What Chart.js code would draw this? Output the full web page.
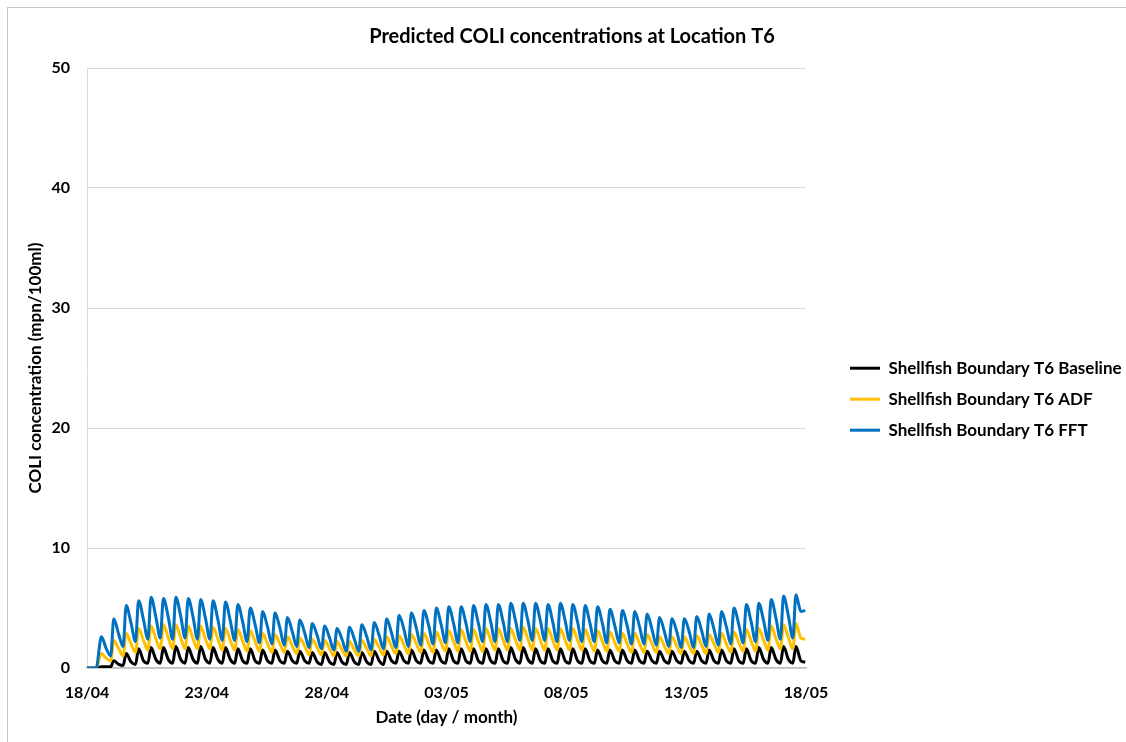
<!DOCTYPE html>
<html>
<head>
<meta charset="utf-8">
<title>Predicted COLI concentrations at Location T6</title>
<script src="https://cdn.jsdelivr.net/npm/chart.js@4/dist/chart.umd.min.js"></script>
<style>
    body { margin: 0; background: #fff; overflow: hidden; }
    #marco { position: absolute; left: 7px; top: 7px; width: 1130px; height: 750px; border: 1px solid #c8c8c8; }
    #chartColi { position: absolute; left: 0; top: 0; }
</style>
</head>
<body>
<div id="marco"></div>
<canvas id="chartColi" width="1126" height="742"></canvas>
<script>
    // tick labels of the date axis (one every 5 days from 18/04)
    const dateLabels = ["18/04", "23/04", "28/04", "03/05", "08/05", "13/05", "18/05"];

    // tidal cycle sampling: first peak day and period (days)
    const firstPeakDay = 0.6;
    const tidePeriod = 0.5175;

    // values read per tidal cycle: peak, value after peak, trough
    const blueTop = [2.6, 4.1, 5.2, 5.6, 5.9, 5.8, 5.9, 5.8, 5.7, 5.6,
        5.5, 5.3, 5.0, 4.7, 4.6, 4.2, 4.0, 3.7, 3.5, 3.3,
        3.4, 3.6, 3.8, 4.1, 4.4, 4.6, 4.8, 5.0, 5.1, 5.1,
        5.2, 5.3, 5.3, 5.4, 5.4, 5.4, 5.3, 5.4, 5.3, 5.2,
        5.1, 4.9, 4.8, 4.7, 4.5, 4.2, 4.1, 4.1, 4.3, 4.5,
        4.7, 5.0, 5.3, 5.4, 5.7, 6.0, 6.1];
    const blueMid = [1.6, 2.8, 3.7, 4.0, 4.2, 4.2, 4.3, 4.2, 4.1, 4.0,
        3.9, 3.8, 3.6, 3.4, 3.3, 3.0, 2.9, 2.7, 2.5, 2.4,
        2.4, 2.6, 2.7, 2.9, 3.2, 3.3, 3.5, 3.6, 3.7, 3.7,
        3.7, 3.8, 3.8, 3.9, 3.9, 3.9, 3.8, 3.9, 3.8, 3.7,
        3.7, 3.5, 3.5, 3.4, 3.2, 3.0, 3.0, 3.0, 3.1, 3.2,
        3.4, 3.6, 3.8, 3.9, 4.1, 4.3, 4.7];
    const blueLow = [1.0, 1.8, 2.2, 2.4, 2.5, 2.4, 2.5, 2.4, 2.4, 2.3,
        2.3, 2.2, 2.1, 2.0, 1.9, 1.8, 1.7, 1.6, 1.5, 1.4,
        1.4, 1.5, 1.6, 1.7, 1.8, 1.9, 2.0, 2.1, 2.1, 2.2,
        2.2, 2.2, 2.2, 2.3, 2.3, 2.3, 2.2, 2.3, 2.2, 2.2,
        2.1, 2.1, 2.0, 2.0, 1.9, 1.8, 1.7, 1.7, 1.8, 1.9,
        2.0, 2.1, 2.2, 2.3, 2.4, 2.5, 4.8];

    const yellowTop = [1.2, 2.3, 2.9, 3.3, 3.5, 3.6, 3.6, 3.5, 3.5, 3.4,
        3.3, 3.2, 3.1, 2.9, 2.8, 2.6, 2.5, 2.4, 2.3, 2.2,
        2.2, 2.3, 2.4, 2.6, 2.7, 2.8, 2.9, 3.0, 3.1, 3.2,
        3.2, 3.3, 3.3, 3.3, 3.4, 3.3, 3.3, 3.3, 3.3, 3.2,
        3.1, 3.0, 2.9, 2.9, 2.8, 2.6, 2.6, 2.6, 2.7, 2.8,
        2.9, 3.0, 3.2, 3.3, 3.5, 3.6, 3.7];
    const yellowMid = [0.8, 1.6, 2.0, 2.3, 2.4, 2.5, 2.5, 2.4, 2.4, 2.4,
        2.3, 2.2, 2.2, 2.0, 2.0, 1.8, 1.8, 1.7, 1.6, 1.5,
        1.5, 1.6, 1.7, 1.8, 1.9, 2.0, 2.0, 2.1, 2.2, 2.2,
        2.2, 2.3, 2.3, 2.3, 2.4, 2.3, 2.3, 2.3, 2.3, 2.2,
        2.2, 2.1, 2.0, 2.0, 2.0, 1.8, 1.8, 1.8, 1.9, 2.0,
        2.0, 2.1, 2.2, 2.3, 2.4, 2.5, 2.5];
    const yellowLow = [0.6, 1.0, 1.3, 1.5, 1.6, 1.6, 1.6, 1.6, 1.6, 1.5,
        1.5, 1.4, 1.4, 1.3, 1.3, 1.2, 1.1, 1.1, 1.0, 1.0,
        1.0, 1.0, 1.1, 1.2, 1.2, 1.3, 1.3, 1.4, 1.4, 1.4,
        1.4, 1.5, 1.5, 1.5, 1.5, 1.5, 1.5, 1.5, 1.5, 1.4,
        1.4, 1.4, 1.3, 1.3, 1.3, 1.2, 1.2, 1.2, 1.2, 1.3,
        1.3, 1.4, 1.4, 1.5, 1.6, 1.6, 2.4];

    const blackTop = [0.1, 0.6, 1.2, 1.6, 1.7, 1.7, 1.8, 1.7, 1.8, 1.7,
        1.7, 1.6, 1.6, 1.5, 1.5, 1.4, 1.4, 1.3, 1.3, 1.3,
        1.3, 1.3, 1.4, 1.4, 1.4, 1.5, 1.5, 1.5, 1.6, 1.6,
        1.6, 1.6, 1.6, 1.7, 1.7, 1.6, 1.6, 1.6, 1.6, 1.6,
        1.5, 1.5, 1.5, 1.5, 1.4, 1.4, 1.4, 1.4, 1.4, 1.5,
        1.5, 1.6, 1.6, 1.7, 1.7, 1.8, 1.8];
    const blackMid = [0.1, 0.3, 0.5, 0.6, 0.7, 0.7, 0.7, 0.7, 0.7, 0.7,
        0.7, 0.6, 0.6, 0.6, 0.6, 0.6, 0.6, 0.5, 0.5, 0.5,
        0.5, 0.5, 0.6, 0.6, 0.6, 0.6, 0.6, 0.6, 0.6, 0.6,
        0.6, 0.6, 0.6, 0.7, 0.7, 0.6, 0.6, 0.6, 0.6, 0.6,
        0.6, 0.6, 0.6, 0.6, 0.6, 0.6, 0.6, 0.6, 0.6, 0.6,
        0.6, 0.6, 0.6, 0.7, 0.7, 0.7, 0.6];
    const blackLow = [0.1, 0.2, 0.3, 0.4, 0.4, 0.4, 0.4, 0.4, 0.4, 0.4,
        0.4, 0.4, 0.4, 0.4, 0.4, 0.4, 0.4, 0.3, 0.3, 0.3,
        0.3, 0.3, 0.3, 0.4, 0.4, 0.4, 0.4, 0.4, 0.4, 0.4,
        0.4, 0.4, 0.4, 0.4, 0.4, 0.4, 0.4, 0.4, 0.4, 0.4,
        0.4, 0.4, 0.4, 0.4, 0.4, 0.4, 0.4, 0.4, 0.4, 0.4,
        0.4, 0.4, 0.4, 0.4, 0.4, 0.4, 0.5];

    // puts the cycle values on the time axis (days since 18/04)
    function buildSeries(top, mid, low) {
        const pts = [{ x: 0, y: 0 }, { x: 0.38, y: 0 }];
        for (let i = 0; i < top.length; i++) {
            const t = firstPeakDay + i * tidePeriod;
            pts.push({ x: t, y: top[i] });
            pts.push({ x: t + 0.4 * tidePeriod, y: mid[i] });
            pts.push({ x: t + 0.75 * tidePeriod, y: low[i] });
        }
        return pts;
    }

    Chart.defaults.font.family = "Lato, 'Open Sans', sans-serif";
    Chart.defaults.font.weight = "bold";
    Chart.defaults.color = "#000";

    const lineStyle = {
        borderWidth: 3,
        pointRadius: 0,
        fill: false,
        cubicInterpolationMode: "monotone",
    };

    const data = {
        datasets: [{
            label: "Shellfish Boundary T6 Baseline",
            data: buildSeries(blackTop, blackMid, blackLow),
            borderColor: "#000000",
            backgroundColor: "#000000",
            order: 3,
            ...lineStyle,
        }, {
            label: "Shellfish Boundary T6 ADF",
            data: buildSeries(yellowTop, yellowMid, yellowLow),
            borderColor: "#FFC000",
            backgroundColor: "#FFC000",
            order: 2,
            ...lineStyle,
        }, {
            label: "Shellfish Boundary T6 FFT",
            data: buildSeries(blueTop, blueMid, blueLow),
            borderColor: "#0070C0",
            backgroundColor: "#0070C0",
            order: 1,
            ...lineStyle,
        }],
    };

    const config = {
        type: "line",
        data,
        options: {
            responsive: false,
            animation: false,
            layout: { padding: { left: 18, top: 8, right: 0, bottom: 10 } },
            plugins: {
                title: {
                    display: true,
                    text: "Predicted COLI concentrations at Location T6",
                    font: { size: 20, weight: "bold" },
                    padding: { top: 17, bottom: 19 },
                },
                legend: {
                    position: "right",
                    align: "center",
                    maxWidth: 290,
                    title: { display: true, text: "", padding: { top: 44, bottom: 0 } },
                    labels: {
                        usePointStyle: true,
                        pointStyle: "line",
                        pointStyleWidth: 30,
                        padding: 14,
                        font: { size: 17, weight: "bold" },
                        sort: (a, b) => a.datasetIndex - b.datasetIndex,
                    },
                },
                tooltip: { enabled: false },
            },
            scales: {
                x: {
                    type: "linear",
                    min: 0,
                    max: 30,
                    grid: { display: false, drawTicks: false },
                    border: { color: "#bfbfbf", width: 1.5 },
                    ticks: {
                        stepSize: 5,
                        autoSkip: false,
                        maxRotation: 0,
                        padding: 15,
                        font: { size: 16, weight: "bold" },
                        callback: (v) => dateLabels[v / 5],
                    },
                    title: {
                        display: true,
                        text: "Date (day / month)",
                        font: { size: 17, weight: "bold" },
                        padding: { top: 8, bottom: 4 },
                    },
                    afterFit: (scale) => { scale.height = 64; },
                },
                y: {
                    min: 0,
                    max: 50,
                    grid: { color: "#d9d9d9", drawTicks: false },
                    border: { color: "#d9d9d9" },
                    ticks: {
                        stepSize: 10,
                        padding: 17,
                        font: { size: 16, weight: "bold" },
                    },
                    title: {
                        display: true,
                        text: "COLI concentration (mpn/100ml)",
                        font: { size: 17, weight: "bold" },
                        padding: { top: 7, bottom: 4 },
                    },
                    afterFit: (scale) => { scale.width = 69; },
                },
                // empty space between plot and legend
                gap: {
                    type: "linear",
                    position: "right",
                    display: true,
                    grid: { display: false },
                    border: { display: false },
                    ticks: { display: false },
                    afterFit: (scale) => { scale.width = 30; },
                },
            },
        },
    };

    var chartLine = new Chart(document.getElementById("chartColi"), config);
</script>
</body>
</html>
